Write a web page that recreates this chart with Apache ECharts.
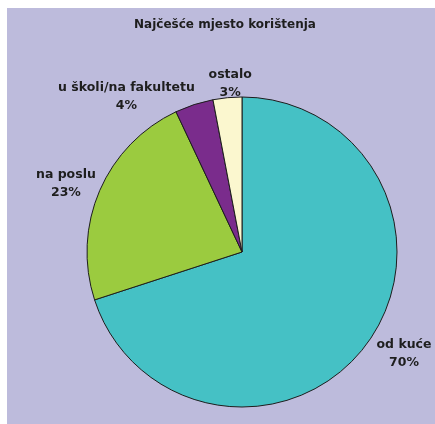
<!DOCTYPE html>
<html>
<head>
<meta charset="utf-8">
<script src="https://cdn.jsdelivr.net/npm/echarts@6/dist/echarts.min.js"></script>
<style>
  html, body { margin: 0; padding: 0; background: #ffffff; }
  #chart { position: absolute; left: 7px; top: 8px; width: 428px; height: 416px; }
</style>
</head>
<body>
<div id="chart"></div>
<script>
// Most frequent place of use (share of respondents, %)
const titleText = 'Najčešće mjesto korištenja';
const categories = ['od kuće', 'na poslu', 'u školi/na fakultetu', 'ostalo'];
const values = [70, 23, 4, 3];
const colors = ['#45c1c5', '#9bcb3f', '#7a2c8c', '#fbf7cf'];

const chart = echarts.init(document.getElementById('chart'), null, { renderer: 'canvas' });

const labelFont = {
  fontFamily: 'DejaVu Sans',
  fontWeight: 'bold',
  fontSize: 12.5,
  color: '#1e1e1e',
  lineHeight: 18
};

// offset of each label's centre from the anchor point the pie layout gives it
const labelShift = [[24, 9.5], [-21, -6], [-56, -5.5], [14, -11.5]];

chart.setOption({
  backgroundColor: '#bdbbdc',
  animation: false,
  title: {
    text: titleText,
    left: 213,
    textAlign: 'center',
    top: 3,
    textStyle: Object.assign({}, labelFont, { fontSize: 12 })
  },
  series: [{
    type: 'pie',
    center: [235, 244],
    radius: 155,
    startAngle: 90,
    clockwise: true,
    avoidLabelOverlap: false,
    data: categories.map((name, i) => ({
      name: name,
      value: values[i],
      itemStyle: { color: colors[i] }
    })),
    itemStyle: { borderColor: '#1d1d1d', borderWidth: 1 },
    label: Object.assign({
      show: true,
      position: 'outside',
      formatter: p => p.name + '\n' + p.value + '%'
    }, labelFont),
    labelLine: { show: false, length: 2, length2: 6 },
    labelLayout: params => {
      const r = params.labelRect;
      const s = labelShift[params.dataIndex];
      const anchorX = params.align === 'right' ? r.x + r.width : r.x;
      return {
        x: anchorX + s[0],
        y: r.y + r.height / 2 + s[1],
        align: 'center',
        verticalAlign: 'middle'
      };
    },
    emphasis: { disabled: true }
  }]
});
</script>
</body>
</html>
